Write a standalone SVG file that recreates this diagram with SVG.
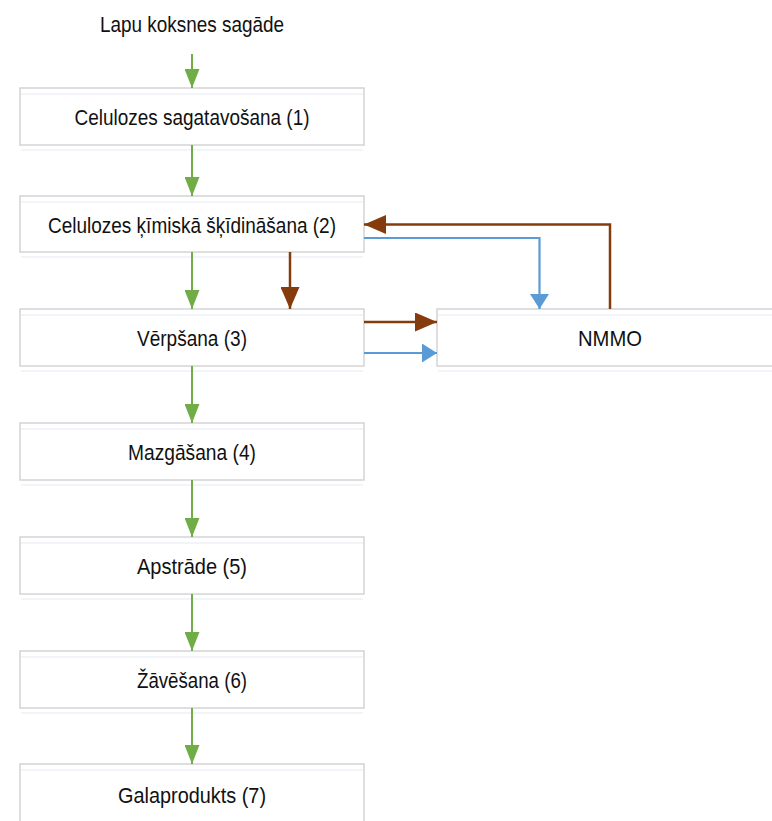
<svg xmlns="http://www.w3.org/2000/svg" width="772" height="821" viewBox="0 0 772 821">
<style>
.box{fill:#ffffff;stroke:#d4d4d4;stroke-width:1.5}
.sh{stroke:#edf2f9;stroke-width:1.5}
text{font-family:"Liberation Sans",Arial,sans-serif;font-size:22.5px;fill:#111111;text-anchor:middle}
.g{stroke:#70ad47;stroke-width:2;fill:none}
.b{stroke:#843c0c;stroke-width:2.5;fill:none}
.u{stroke:#5b9bd5;stroke-width:2.2;fill:none}
</style>
<defs>
<marker id="ag" markerUnits="userSpaceOnUse" markerWidth="19" markerHeight="15" refX="19" refY="7.5" viewBox="0 0 19 15" orient="auto"><path d="M0,0 L19,7.5 L0,15 Z" fill="#70ad47"/></marker>
<marker id="ab" markerUnits="userSpaceOnUse" markerWidth="22" markerHeight="19" refX="22" refY="9.5" viewBox="0 0 22 19" orient="auto"><path d="M0,0 L22,9.5 L0,19 Z" fill="#843c0c"/></marker>
<marker id="au" markerUnits="userSpaceOnUse" markerWidth="15" markerHeight="19" refX="15" refY="9.5" viewBox="0 0 15 19" orient="auto"><path d="M0,0 L15,9.5 L0,19 Z" fill="#5b9bd5"/></marker>
</defs>
<g id="src"><text x="192" y="32" textLength="184" lengthAdjust="spacingAndGlyphs">Lapu koksnes sagāde</text></g>
<g id="n1"><rect class="box" x="20" y="88" width="344" height="57"/><line class="sh" x1="21" y1="94" x2="363" y2="94"/><line class="sh" x1="21" y1="150" x2="363" y2="150"/><text x="192" y="125" textLength="235" lengthAdjust="spacingAndGlyphs">Celulozes sagatavošana (1)</text></g>
<g id="n2"><rect class="box" x="20" y="196" width="344" height="56"/><line class="sh" x1="21" y1="202" x2="363" y2="202"/><line class="sh" x1="21" y1="257" x2="363" y2="257"/><text x="192" y="233" textLength="288" lengthAdjust="spacingAndGlyphs">Celulozes ķīmiskā šķīdināšana (2)</text></g>
<g id="n3"><rect class="box" x="20" y="309" width="344" height="57"/><line class="sh" x1="21" y1="315" x2="363" y2="315"/><line class="sh" x1="21" y1="371" x2="363" y2="371"/><text x="192" y="346" textLength="110" lengthAdjust="spacingAndGlyphs">Vērpšana (3)</text></g>
<g id="nmmo"><rect class="box" x="437" y="309" width="340" height="57"/><line class="sh" x1="438" y1="315" x2="772" y2="315"/><line class="sh" x1="438" y1="371" x2="772" y2="371"/><text x="610" y="346" textLength="64" lengthAdjust="spacingAndGlyphs">NMMO</text></g>
<g id="n4"><rect class="box" x="20" y="423" width="344" height="57"/><line class="sh" x1="21" y1="429" x2="363" y2="429"/><line class="sh" x1="21" y1="485" x2="363" y2="485"/><text x="192" y="460" textLength="128" lengthAdjust="spacingAndGlyphs">Mazgāšana (4)</text></g>
<g id="n5"><rect class="box" x="20" y="537" width="344" height="57"/><line class="sh" x1="21" y1="543" x2="363" y2="543"/><line class="sh" x1="21" y1="599" x2="363" y2="599"/><text x="192" y="574" textLength="110" lengthAdjust="spacingAndGlyphs">Apstrāde (5)</text></g>
<g id="n6"><rect class="box" x="20" y="651" width="344" height="57"/><line class="sh" x1="21" y1="657" x2="363" y2="657"/><line class="sh" x1="21" y1="713" x2="363" y2="713"/><text x="192" y="688" textLength="110" lengthAdjust="spacingAndGlyphs">Žāvēšana (6)</text></g>
<g id="n7"><rect class="box" x="20" y="764" width="344" height="70"/><line class="sh" x1="21" y1="770" x2="363" y2="770"/><text x="192" y="803" textLength="148" lengthAdjust="spacingAndGlyphs">Galaprodukts (7)</text></g>
<g id="connectors">
<line class="g" x1="192" y1="54" x2="192" y2="88" marker-end="url(#ag)"/>
<line class="g" x1="192" y1="145" x2="192" y2="196" marker-end="url(#ag)"/>
<line class="g" x1="192" y1="252" x2="192" y2="309" marker-end="url(#ag)"/>
<line class="g" x1="192" y1="366" x2="192" y2="423" marker-end="url(#ag)"/>
<line class="g" x1="192" y1="480" x2="192" y2="537" marker-end="url(#ag)"/>
<line class="g" x1="192" y1="594" x2="192" y2="651" marker-end="url(#ag)"/>
<line class="g" x1="192" y1="708" x2="192" y2="764" marker-end="url(#ag)"/>
<line class="b" x1="290" y1="252" x2="290" y2="309" marker-end="url(#ab)"/>
<polyline class="b" points="610,309 610,224.5 364,224.5" marker-end="url(#ab)"/>
<polyline class="u" points="364,238 539.5,238 539.5,309" marker-end="url(#au)"/>
<line class="b" x1="364" y1="322" x2="437" y2="322" marker-end="url(#ab)"/>
<line class="u" x1="364" y1="353" x2="437" y2="353" marker-end="url(#au)"/>
</g>
</svg>
